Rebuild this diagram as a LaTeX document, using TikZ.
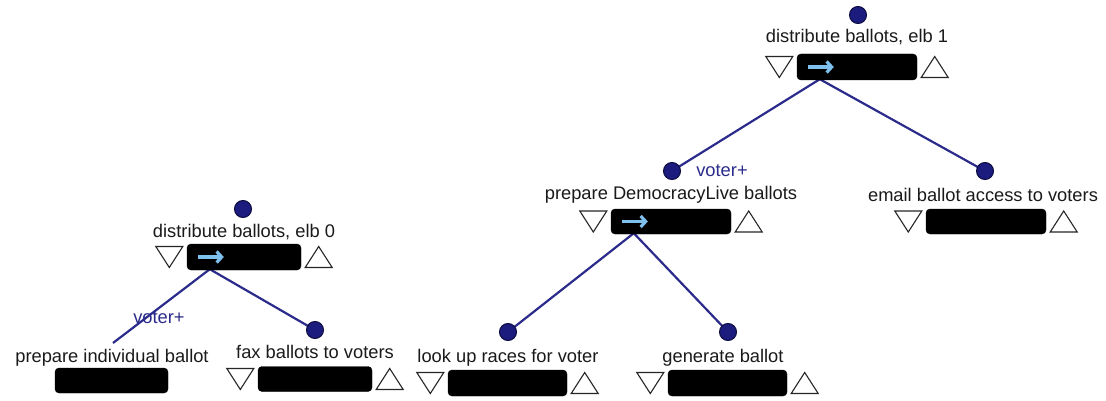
\documentclass[tikz,border=0pt]{standalone}
\usepackage{fontspec}
\setmainfont{Liberation Sans}
\usetikzlibrary{calc,arrows.meta}
\pgfdeclarelayer{background}
\pgfsetlayers{background,main}
\definecolor{edgeblue}{HTML}{2B2B8C}
\definecolor{dotfill}{HTML}{1C1C7E}
\definecolor{dotline}{HTML}{0C0C40}
\definecolor{flowblue}{HTML}{7EC0EE}
\definecolor{labelink}{HTML}{1A1A1A}
\tikzset{
  label text/.style={font=\fontsize{18.3}{20}\selectfont, text=labelink, anchor=base, inner sep=0pt},
  role text/.style={font=\fontsize{18.3}{20}\selectfont, text=edgeblue, anchor=base, inner sep=0pt},
  taskbox/.style={fill=black, draw=black, rounded corners=4pt, inner sep=0pt},
  knob/.style={circle, fill=dotfill, draw=dotline, line width=1pt, minimum size=17pt, inner sep=0pt},
  edge/.style={draw=edgeblue, line width=2.2pt},
  tri/.style={draw=black!85, line width=1.1pt, line join=miter, fill=white},
  flow/.style={draw=flowblue, line width=3.8pt, -{Straight Barb[length=5pt,width=11pt,line width=3.2pt]}},
}
% triangles on either side of a task box
\newcommand\sidetris[1]{%
  \draw[tri] ($(#1.west)+(-31,-10.5)$) -- ++(27,0) -- ++(-13.5,21) -- cycle;
  \draw[tri] ($(#1.east)+(4,10.5)$) -- ++(27,0) -- ++(-13.5,-21) -- cycle;
}
% expansion arrow inside a task box
\newcommand\flowarrow[1]{%
  \draw[flow] ($(#1.west)+(11,0)$) -- ++(26,0);
}
\begin{document}
\begin{tikzpicture}[x=1pt,y=-1pt]
\useasboundingbox (0,0) rectangle (1106,401);

% ---------- task boxes ----------
\node[taskbox, minimum width=114pt, minimum height=26pt] (b0) at (244,257) {};
\node[taskbox, minimum width=113pt, minimum height=25pt] (bind) at (111.5,380.5) {};
\node[taskbox, minimum width=114pt, minimum height=25pt] (bfax) at (315,379) {};
\node[taskbox, minimum width=120pt, minimum height=26pt] (b1) at (857,67) {};
\node[taskbox, minimum width=120pt, minimum height=25pt] (bdl) at (671,221.5) {};
\node[taskbox, minimum width=120pt, minimum height=25pt] (bmail) at (986,221.5) {};
\node[taskbox, minimum width=119pt, minimum height=26pt] (blook) at (507.5,383) {};
\node[taskbox, minimum width=119pt, minimum height=26pt] (bgen) at (727.5,383) {};

% ---------- branching points below the boxes ----------
\coordinate (s0) at ($(b0.south west)+(23,-1)$);
\coordinate (s1) at ($(b1.south west)+(23,-1)$);
\coordinate (sdl) at ($(bdl.south west)+(23,-1)$);
\coordinate (indend) at (113,343);

% ---------- knobs ----------
\node[knob] (k0) at (243,209) {};
\node[knob] (kfax) at (315,330) {};
\node[knob] (k1) at (858,15) {};
\node[knob] (kdl) at (672,171) {};
\node[knob] (kmail) at (985,171) {};
\node[knob] (klook) at (508,332) {};
\node[knob] (kgen) at (728,332) {};

% ---------- connectors, behind boxes and knobs ----------
\begin{pgfonlayer}{background}
\path[edge] (s0) -- (indend);
\path[edge] (s0) -- (kfax.center);
\path[edge] (s1) -- (kdl.center);
\path[edge] (s1) -- (kmail.center);
\path[edge] (sdl) -- (klook.center);
\path[edge] (sdl) -- (kgen.center);
\end{pgfonlayer}

% ---------- side triangles and arrows ----------
\sidetris{b0}
\sidetris{bfax}
\sidetris{b1}
\sidetris{bdl}
\sidetris{bmail}
\sidetris{blook}
\sidetris{bgen}
\flowarrow{b0}
\flowarrow{b1}
\flowarrow{bdl}

% ---------- texts ----------
\node[label text] (t0) at (244,237) {distribute ballots, elb 0};
\node[label text] (tind) at (112,362) {prepare individual ballot};
\node[label text] (tfax) at (315,358) {fax ballots to voters};
\node[label text] (t1) at (857,43) {distribute ballots, elb 1};
\node[label text] (tdl) at (671,200) {prepare DemocracyLive ballots};
\node[label text] (tmail) at (983,201) {email ballot access to voters};
\node[label text] (tlook) at (508,362) {look up races for voter};
\node[label text] (tgen) at (723,362) {generate ballot};
\node[role text] (r0) at (159,323) {voter+};
\node[role text] (r1) at (722,176) {voter+};
\end{tikzpicture}
\end{document}
